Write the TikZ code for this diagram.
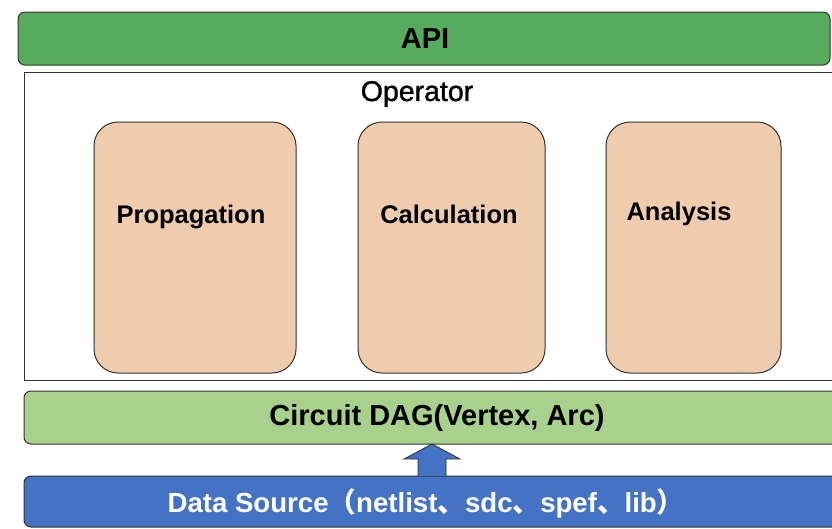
\documentclass[tikz,border=0pt]{standalone}
\usepackage{fontspec}
\usetikzlibrary{calc}
\setmainfont{Liberation Sans}
\newfontfamily\opfont[FakeBold=1.2]{Liberation Sans}
\newfontfamily\cjk{Noto Sans CJK SC}
\definecolor{apigreen}{RGB}{87,171,92}
\definecolor{daggreen}{RGB}{169,209,142}
\definecolor{dsblue}{RGB}{68,114,196}
\definecolor{opfill}{RGB}{240,204,174}
\definecolor{edge}{RGB}{50,50,50}
\begin{document}
\begin{tikzpicture}[x=1pt,y=-1pt,
  bar/.style={draw=edge,line width=1pt,rounded corners=7pt,inner sep=0pt},
  opbox/.style={draw=edge,line width=1pt,fill=opfill,rounded corners=24pt},
  lbl/.style={font=\fontsize{25.5}{28}\selectfont\bfseries,text=black,inner sep=0pt},
  biglbl/.style={font=\fontsize{29}{32}\selectfont\bfseries,inner sep=0pt}]
\useasboundingbox (0,0) rectangle (832,528);
\clip (0,0) rectangle (832,528);
% API
\draw[bar,fill=apigreen] (18,12) rectangle (830,65);
\node[biglbl] (api) at (425,39) {API};
% Operator
\draw[draw=edge,line width=1pt,fill=white] (24,72) rectangle (838,380);
\node[font=\fontsize{28.5}{30}\opfont,inner sep=0pt] (op) at (417,94) {Operator};
% operator boxes
\draw[opbox] (94,122) rectangle (296,373);
\node[lbl] (prop) at (191,217) {Propagation};
\draw[opbox] (358,122) rectangle (545,373);
\node[lbl] (calc) at (449,214) {Calculation};
\draw[opbox] (606,122) rectangle (781,373);
\node[lbl] (ana) at (679,214) {Analysis};
% Circuit DAG
\draw[bar,fill=daggreen] (24,391) rectangle (840,444);
\node[biglbl] (dag) at (437,418) {Circuit DAG(Vertex, Arc)};
% Data source
\draw[bar,fill=dsblue] (24,476) rectangle (840,527);
\node[font=\fontsize{27.6}{30}\selectfont\bfseries,text=white,inner sep=0pt] (ds) at (426,503)
  {Data Source{\cjk （}netlist{\cjk 、}sdc{\cjk 、}spef{\cjk 、}lib{\cjk ）}};
% block arrow
\coordinate (atip) at (432,444);
\coordinate (abase) at (432,476);
\draw[draw=edge,line width=0.8pt,fill=dsblue]
  ($(abase)+(-14,0)$) -- ($(atip)+(-14,15)$) -- ($(atip)+(-28,15)$) -- (atip)
  -- ($(atip)+(28,15)$) -- ($(atip)+(14,15)$) -- ($(abase)+(14,0)$);
\end{tikzpicture}
\end{document}
